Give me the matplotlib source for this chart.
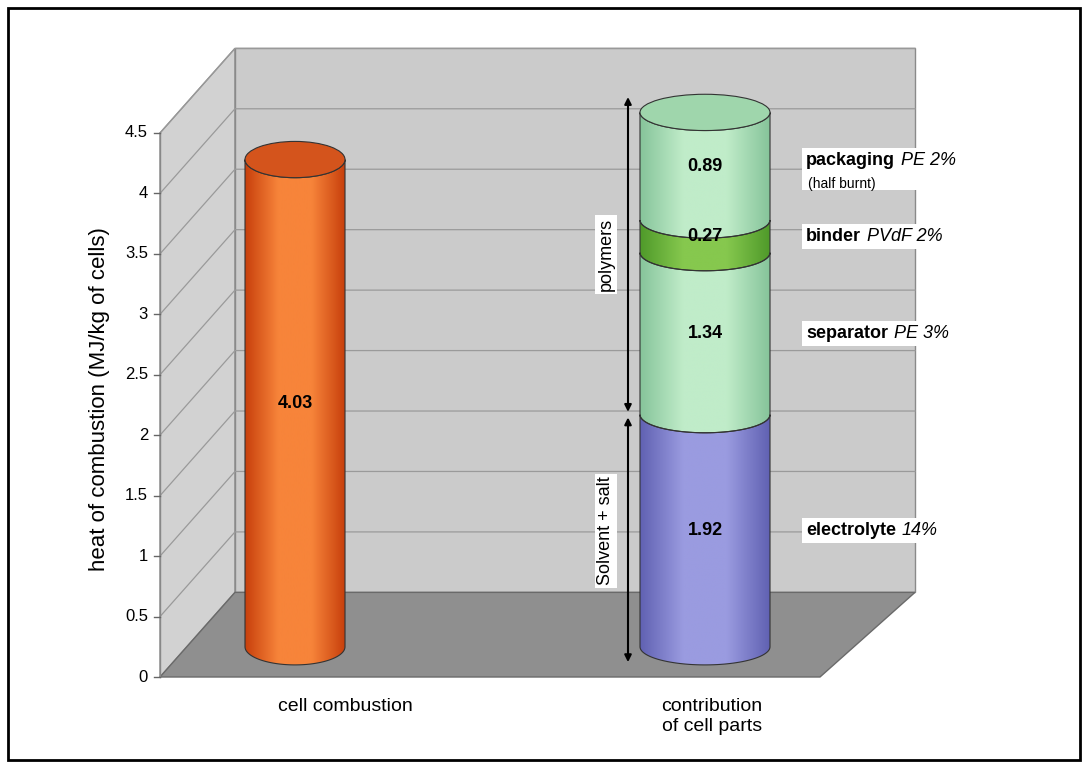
import matplotlib
matplotlib.use("Agg")
import matplotlib.pyplot as plt
import numpy as np
from matplotlib.patches import Polygon, Ellipse, Rectangle
from matplotlib.colors import LinearSegmentedColormap

categories = ["cell combustion", "contribution\nof cell parts"]
total_value = 4.03
part_names = ["electrolyte", "separator", "binder", "packaging"]
part_values = [1.92, 1.34, 0.27, 0.89]
part_notes = ["14%", "PE 3%", "PVdF 2%", "PE 2%"]
yticks = [0, 0.5, 1, 1.5, 2, 2.5, 3, 3.5, 4, 4.5]

PX = 120.9          # pixels per unit
Y0 = 677
fig = plt.figure(figsize=(10.88, 7.68), dpi=100)
ax = fig.add_axes([0, 0, 1, 1])
YLIM = (-(768 - Y0) / PX, Y0 / PX)
ax.set_xlim(0, 1088)
ax.set_ylim(*YLIM)
ax.axis("off")

DY = 0.70
ax.add_patch(Polygon([(160, 0), (235, DY), (235, 4.5 + DY), (160, 4.5)], fc="#d2d2d2", ec="#8a8a8a", lw=1))
ax.add_patch(Polygon([(235, DY), (915, DY), (915, 4.5 + DY), (235, 4.5 + DY)], fc="#cbcbcb", ec="#8a8a8a", lw=1))
ax.add_patch(Polygon([(160, 0), (235, DY), (915, DY), (820, 0)], fc="#8f8f8f", ec="#6a6a6a", lw=1))
for t in yticks[1:]:
    ax.plot([160, 235, 915], [t, t + DY, t + DY], color="#9a9a9a", lw=0.9)
ax.plot([160, 160], [0, 4.5], color="#888", lw=1)
for t in yticks:
    ax.plot([154, 160], [t, t], color="#666", lw=1)
    ax.text(148, t, f"{t:g}", ha="right", va="center", fontsize=12, family="Liberation Sans")
ax.text(100, 2.3, "heat of combustion (MJ/kg of cells)", rotation=90, ha="center", va="center",
        fontsize=16, family="Liberation Sans")
ax.text(345, -0.17, categories[0], ha="center", va="top", fontsize=14, family="Liberation Sans")
ax.text(712, -0.17, categories[1], ha="center", va="top", fontsize=14, family="Liberation Sans", linespacing=1.3)

OFF = 0.25; EH = 0.15

def seg(cx, r, y0, y1, light, dark, top=False, topc=None):
    t = np.linspace(np.pi, 2 * np.pi, 60)
    lower0 = np.c_[cx + r * np.cos(t), y0 + EH * np.sin(t)]
    lower1 = np.c_[cx + r * np.cos(t), y1 + EH * np.sin(t)][::-1]
    poly = Polygon(np.vstack([lower0, lower1]), closed=True, fc="none", ec="#333", lw=0.8, zorder=3)
    ax.add_patch(poly)
    cmap = LinearSegmentedColormap.from_list("g", [dark, light, light, dark])
    grad = np.linspace(0, 1, 256)[None, :]
    im = ax.imshow(grad, cmap=cmap, extent=[cx - r, cx + r, y0 - EH, y1], aspect="auto", zorder=2,
                   interpolation="bilinear")
    im.set_clip_path(poly)
    if top:
        ax.add_patch(Ellipse((cx, y1), 2 * r, 2 * EH, fc=topc or dark, ec="#333", lw=0.8, zorder=4))

seg(295, 50, OFF, OFF + total_value, "#f7843a", "#c8400c", top=True, topc="#d4541c")
ax.text(295, OFF + total_value / 2, f"{total_value:.2f}", ha="center", va="center", fontsize=13,
        weight="bold", zorder=5, family="Liberation Sans")

cols = [("#9a9be0", "#6061b2"), ("#c0ecc9", "#86c49a"), ("#86c84e", "#4f9a2a"), ("#c0ecc9", "#86c49a")]
cx, r = 705, 65
b = OFF
centers = []
for i, v in enumerate(part_values):
    last = i == len(part_values) - 1
    seg(cx, r, b, b + v, cols[i][0], cols[i][1], top=last, topc="#9fd6ac")
    centers.append(b + v / 2)
    ax.text(cx, b + v / 2, f"{v:.2f}", ha="center", va="center", fontsize=13, weight="bold",
            zorder=6, family="Liberation Sans")
    b += v

split = OFF + part_values[0]
top = b + EH
ax.annotate("", xy=(628, OFF - EH), xytext=(628, split), arrowprops=dict(arrowstyle="<|-|>", color="k", lw=1.5), zorder=6)
ax.annotate("", xy=(628, split), xytext=(628, top), arrowprops=dict(arrowstyle="<|-|>", color="k", lw=1.5), zorder=6)
ax.text(606, (OFF + split) / 2, "Solvent + salt", rotation=90, ha="center", va="center", fontsize=13,
        family="Liberation Sans", bbox=dict(fc="white", ec="none", pad=2), zorder=6)
ax.text(606, (split + top) / 2, "polymers", rotation=90, ha="center", va="center", fontsize=13,
        family="Liberation Sans", bbox=dict(fc="white", ec="none", pad=2), zorder=6)

ax.set_xlim(0, 1088)
ax.set_ylim(*YLIM)
fig.canvas.draw()
rend = fig.canvas.get_renderer()
ycen = list(centers)
ycen[3] += 0.05
inv = ax.transData.inverted()
for i in range(4):
    t1 = ax.text(806, ycen[i], part_names[i], ha="left", va="center", fontsize=13, weight="bold",
                 family="Liberation Sans", zorder=7)
    bb = t1.get_window_extent(rend)
    x2 = inv.transform((bb.x1 + 6, 0))[0]
    t2 = ax.text(x2, ycen[i], part_notes[i], ha="left", va="center", fontsize=13, style="italic",
                 family="Liberation Sans", zorder=7)
    bb2 = t2.get_window_extent(rend)
    (xa, ya) = inv.transform((bb.x0 - 4, bb.y0 - 4))
    (xb, yb) = inv.transform((bb2.x1 + 4, bb.y1 + 4))
    if i == 3:
        ya -= 0.14
    ax.add_patch(Rectangle((xa, ya), xb - xa, yb - ya, fc="white", ec="none", zorder=6))
ax.text(808, ycen[3] - 0.2, "(half burnt)", ha="left", va="center", fontsize=10, family="Liberation Sans", zorder=7)

ax.add_patch(Rectangle((8, YLIM[0] + 8 / PX), 1072, 752 / PX, fill=False, ec="k", lw=2, zorder=10))
fig.savefig("out.png", dpi=100)
